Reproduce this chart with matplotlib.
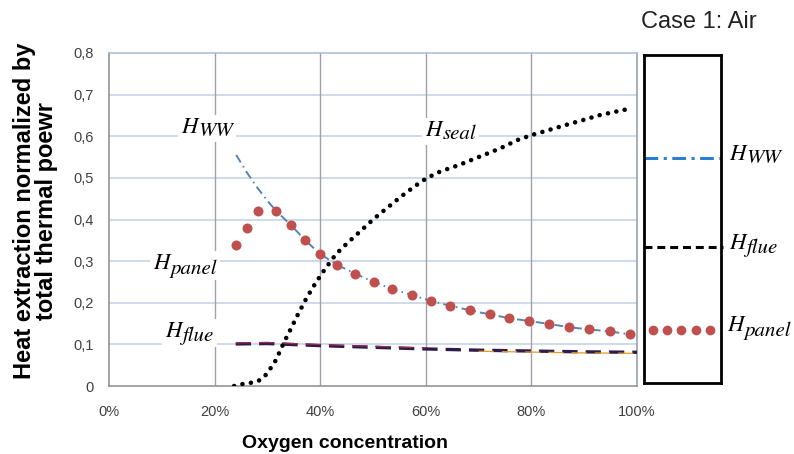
import matplotlib
matplotlib.use("Agg")
import matplotlib.pyplot as plt
from matplotlib.patches import Rectangle

plt.rcParams['font.family'] = ['Liberation Sans', 'DejaVu Sans']

# ---------------- data ----------------
x_ticks = [0, 20, 40, 60, 80, 100]
x_tick_labels = ['0%', '20%', '40%', '60%', '80%', '100%']
y_ticks = [0, 0.1, 0.2, 0.3, 0.4, 0.5, 0.6, 0.7, 0.8]
y_tick_labels = ['0', '0,1', '0,2', '0,3', '0,4', '0,5', '0,6', '0,7', '0,8']

panel_x = [24.1, 26.1, 28.3, 31.7, 34.5, 37.1, 39.9, 43.2, 46.6, 50.1, 53.6, 57.3,
           61.0, 64.6, 68.3, 72.1, 75.8, 79.6, 83.4, 87.2, 90.9, 94.9, 98.6]
panel_y = [0.339, 0.380, 0.420, 0.420, 0.386, 0.351, 0.318, 0.291, 0.270, 0.250, 0.233, 0.219,
           0.204, 0.193, 0.182, 0.172, 0.163, 0.156, 0.149, 0.141, 0.136, 0.131, 0.126]

ww_x = [24.1, 26, 28, 30, 31.7, 34.5, 37.1, 39.9, 43.2, 46.6, 50.1, 53.6, 57.3,
        61.0, 64.6, 68.3, 72.1, 75.8, 79.6, 83.4, 87.2, 90.9, 94.9, 98.6]
ww_y = [0.555, 0.515, 0.478, 0.445, 0.420, 0.386, 0.351, 0.318, 0.291, 0.270, 0.250, 0.233, 0.219,
        0.204, 0.193, 0.182, 0.172, 0.163, 0.156, 0.149, 0.141, 0.136, 0.131, 0.124]

seal_x = [23.7, 25.4, 27.0, 28.6, 29.9, 31.6, 33.0, 34.5, 35.9, 37.4, 39.1, 40.8, 43.0, 45.2,
          47.7, 50.1, 52.6, 55.1, 57.8, 60.1, 62.7, 66.3, 70.2, 74.1, 77.4, 80.1, 83.3, 86.5,
          89.8, 93.0, 97.8]
seal_y = [0.0, 0.005, 0.008, 0.014, 0.029, 0.062, 0.101, 0.139, 0.175, 0.211, 0.247, 0.279,
          0.317, 0.344, 0.373, 0.401, 0.427, 0.453, 0.479, 0.499, 0.515, 0.531, 0.551, 0.571,
          0.591, 0.603, 0.615, 0.627, 0.639, 0.651, 0.664]

flue_x = [24, 30, 40, 50, 60, 70, 80, 90, 100]
flue_y = [0.101, 0.102, 0.097, 0.093, 0.089, 0.086, 0.084, 0.082, 0.081]

label_h = 'H'
sub_ww, sub_seal, sub_panel, sub_flue = 'WW', 'seal', 'panel', 'flue'
title_text = 'Case 1: Air'

# ---------------- figure ----------------
W, H = 794, 454
fig = plt.figure(figsize=(W / 100, H / 100), dpi=100)
renderer = fig.canvas.get_renderer()

def px(x, y):
    return x / W, 1 - y / H

L, R, T, B = 109, 637, 53, 386
ax = fig.add_axes([L / W, 1 - B / H, (R - L) / W, (B - T) / H])
ax.set_xlim(0, 100)
ax.set_ylim(0, 0.8)
ax.set_xticks(x_ticks)
ax.set_xticklabels(x_tick_labels)
ax.set_yticks(y_ticks)
ax.set_yticklabels(y_tick_labels)
ax.tick_params(length=0, labelsize=10.5, labelcolor='#404040')
ax.tick_params(axis='x', pad=14)
ax.tick_params(axis='y', pad=11)
for yv in y_ticks[1:-1]:
    ax.axhline(yv, color='#c3cfe2', lw=1.1, zorder=0)
for xv in x_ticks[1:-1]:
    ax.axvline(xv, color='#9fa0ad', lw=1.0, zorder=0)
ax.spines['left'].set_color('#8c8c8c')
ax.spines['bottom'].set_color('#8c8c8c')
ax.spines['top'].set_color('#a9bcd2')
ax.spines['right'].set_color('#8f9aa8')
for s in ax.spines.values():
    s.set_linewidth(1.1)

# H_WW dash-dot
ax.plot(ww_x, ww_y, color='#5585b5', lw=1.4, dashes=(4.5, 2.2, 0.8, 2.2), zorder=3)
# Panel dots
ax.plot(panel_x, panel_y, 'o', color='#c0504d', ms=7.2, mec='none', zorder=4)
# H_seal dotted
ax.plot(seal_x, seal_y, color='black', lw=3.3, dashes=(0.01, 1.85),
        dash_capstyle='round', zorder=5)
# H_flue dashed (dark, with a warm tint)
ax.plot(flue_x, flue_y, color='#2e1c4c', lw=2.4, dashes=(4.6, 2.4), zorder=3)
ax.plot(flue_x[:5], [v + 0.0025 for v in flue_y[:5]], color='#9a2d4a', lw=0.9,
        dashes=(12.2, 6.4), zorder=3.5)
ax.plot(flue_x[5:], [v - 0.0025 for v in flue_y[5:]], color='#e49a26', lw=0.9,
        dashes=(12.2, 6.4), zorder=3.5)


def mlabel(x, y, sub, drop=4, box=False, size=16.5, subsize=15):
    """Italic H with a large subscript, positioned by pixel (left, baseline)."""
    t1 = fig.text(x / W, 1 - y / H, label_h, fontsize=size, family='STIXGeneral',
                  style='italic', va='baseline', ha='left', zorder=5)
    b1 = t1.get_window_extent(renderer)
    t2 = fig.text((b1.x1 + 1.0) / W, 1 - (y + drop) / H, sub, fontsize=subsize,
                  family='STIXGeneral', style='italic', va='baseline', ha='left', zorder=5)
    if box:
        b2 = t2.get_window_extent(renderer)
        x0 = min(b1.x0, b2.x0) - 3
        x1 = max(b1.x1, b2.x1) + 3
        y0 = min(b1.y0, b2.y0) - 2
        y1 = max(b1.y1, b2.y1) + 2
        fig.add_artist(Rectangle((x0 / W, y0 / H), (x1 - x0) / W, (y1 - y0) / H,
                                 transform=fig.transFigure, facecolor='white',
                                 edgecolor='none', zorder=1))


mlabel(181, 133, sub_ww, drop=3, box=True)
mlabel(425, 136, sub_seal, drop=3, box=True)
mlabel(153, 269, sub_panel, drop=5, box=True)
mlabel(165, 337, sub_flue, drop=4, box=True)

# axis labels
fig.text(*px(35.5, 211), 'Heat extraction normalized by\ntotal thermal poewr', rotation=90,
         ha='center', va='center', multialignment='center', fontsize=17,
         fontweight='bold', color='black', linespacing=0.95)
fig.text(*px(345, 443), 'Oxygen concentration', ha='center', va='center', fontsize=14,
         fontweight='bold', color='black')

# ---------------- legend box ----------------
lx0, lx1, ly0, ly1 = 644, 721, 55, 383
lax = fig.add_axes([lx0 / W, 1 - ly1 / H, (lx1 - lx0) / W, (ly1 - ly0) / H])
lax.set_xlim(0, 1)
lax.set_ylim(0, 1)
lax.set_xticks([])
lax.set_yticks([])
for s in lax.spines.values():
    s.set_linewidth(2.0)
    s.set_color('black')

def fy(y):
    return (ly1 - y) / (ly1 - ly0)

lax.plot([0, 1], [fy(158)] * 2, color='#2a7fd0', lw=2.2, dashes=(4.5, 1.8, 1.0, 1.8),
         clip_on=False)
lax.plot([0, 1.03], [fy(247)] * 2, color='black', lw=2.2, dashes=(2.6, 1.6), clip_on=False)
lax.plot([0.117, 0.302, 0.487, 0.672, 0.857], [fy(330)] * 5, 'o', color='#c0504d',
         ms=7.0, mec='none')

mlabel(729, 160, sub_ww, drop=3)
mlabel(729, 249, sub_flue, drop=4)
mlabel(727, 331, sub_panel, drop=5)
fig.text(*px(641, 22), title_text, fontsize=17, va='center', ha='left', color='#222222')

fig.savefig('out.png', dpi=100)
